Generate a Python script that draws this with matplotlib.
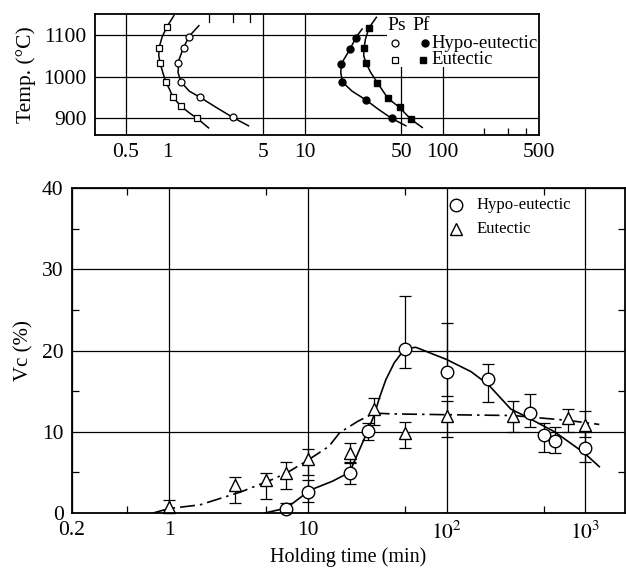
import matplotlib
matplotlib.use("Agg")
import matplotlib.pyplot as plt
from matplotlib.patches import Rectangle
from matplotlib.ticker import NullFormatter
import matplotlib.transforms as mtransforms

plt.rcParams['font.family'] = ['Liberation Serif', 'DejaVu Serif']
plt.rcParams['mathtext.fontset'] = 'stix'

# ---- top panel: Ps / Pf vs temperature ----
ps_hypo_x = [1.44, 1.33, 1.2, 1.26, 1.74, 3.0]
ps_hypo_T = [1096, 1069, 1032, 987, 950, 902]
ps_eut_x = [1.0, 0.875, 0.89, 0.98, 1.1, 1.26, 1.65]
ps_eut_T = [1120, 1069, 1032, 987, 951, 929, 900]
pf_hypo_x = [23.4, 21.2, 18.4, 18.7, 27.7, 42.5]
pf_hypo_T = [1093, 1065, 1031, 987, 944, 900]
pf_eut_x = [29.2, 26.9, 27.8, 33.6, 40, 48.6, 58.6]
pf_eut_T = [1117, 1069, 1032, 985, 948, 926, 898]

# hand-drawn curves
ps_hypo_fit_x = [1.7, 1.44, 1.30, 1.22, 1.20, 1.26, 1.45, 1.74, 2.3, 3.0, 3.9]
ps_hypo_fit_T = [1122, 1096, 1065, 1040, 1010, 987, 965, 950, 925, 902, 882]
ps_eut_fit_x = [1.12, 1.0, 0.92, 0.875, 0.87, 0.89, 0.94, 0.98, 1.04, 1.1, 1.26, 1.45, 1.65, 2.0]
ps_eut_fit_T = [1146, 1120, 1095, 1069, 1050, 1032, 1005, 987, 970, 951, 929, 913, 900, 877]
pf_hypo_fit_x = [26, 23.4, 21.2, 19.5, 18.4, 18.2, 18.7, 22, 27.7, 34, 42.5, 54]
pf_hypo_fit_T = [1114, 1093, 1065, 1045, 1031, 1010, 987, 965, 944, 922, 900, 882]
pf_eut_fit_x = [33, 29.2, 27.5, 26.9, 26.7, 27.8, 30, 33.6, 40, 48.6, 58.6, 71]
pf_eut_fit_T = [1142, 1117, 1090, 1069, 1050, 1032, 1010, 985, 948, 926, 898, 878]

top_xticks = [0.5, 1, 5, 10, 50, 100, 500]
top_xlabels = ['0.5', '1', '5', '10', '50', '100', '500']
top_grid_x = [0.5, 5, 10, 50, 100]
top_yticks = [900, 1000, 1100]

# ---- bottom panel: Vc vs holding time ----
hypo_t = [7, 10, 20, 27, 50, 100, 200, 400, 500, 600, 1000]
hypo_vc = [0.5, 2.6, 4.9, 10.1, 20.2, 17.3, 16.5, 12.3, 9.6, 8.9, 8.0]
hypo_lo = [0.5, 1.2, 1.3, 1.1, 2.3, 2.9, 2.8, 1.7, 2.1, 1.5, 1.7]
hypo_hi = [0.7, 1.5, 1.4, 1.0, 6.5, 6.1, 1.8, 2.3, 1.5, 1.7, 2.0]

eut_t = [1, 3, 5, 7, 10, 20, 30, 50, 100, 300, 750, 1000]
eut_vc = [0.75, 3.5, 4.0, 4.9, 6.6, 7.4, 12.8, 9.9, 12.0, 12.0, 11.7, 10.8]
eut_lo = [0.75, 2.3, 2.3, 2.0, 1.9, 1.2, 2.0, 1.9, 2.6, 2.0, 1.7, 1.4]
eut_hi = [0.85, 0.9, 0.9, 1.4, 1.3, 1.2, 1.4, 1.3, 1.8, 1.8, 1.1, 1.7]

hypo_fit_t = [4.9, 7, 9, 10, 15, 20, 27, 30, 33, 36.5, 42, 50, 60, 100, 150, 200, 290, 370, 600, 980, 1260]
hypo_fit_vc = [0, 0.6, 2.0, 2.7, 3.9, 5.0, 10.1, 12.0, 14.3, 16.4, 18.5, 20.2, 20.4, 18.9, 17.4, 15.8, 12.8, 11.9, 10.0, 7.4, 5.7]
eut_fit_t = [0.77, 1, 1.67, 3.3, 5.5, 7, 10, 14.2, 17, 23, 30, 40, 100, 300, 750, 1260]
eut_fit_vc = [0, 0.55, 1.0, 2.6, 4.1, 4.9, 6.5, 8.2, 9.9, 11.3, 12.3, 12.2, 12.1, 12.0, 11.4, 10.9]

bot_xticks = [0.2, 1, 10, 100, 1000]
bot_xlabels = ['0.2', '1', '10', '$10^2$', '$10^3$']
bot_xminor = [0.5, 5, 50, 500]
bot_yticks = [0, 10, 20, 30, 40]
bot_yminor = [5, 15, 25, 35]

FS = 15.5
fig = plt.figure(figsize=(6.26, 5.71), dpi=100)

# ================= TOP =================
ax1 = fig.add_axes([0.1518, 0.7636, 0.7093, 0.2119])
ax1.set_xscale('log')
ax1.set_xlim(0.3, 500)
ax1.set_ylim(860, 1150)
for x in top_grid_x:
    ax1.axvline(x, color='k', lw=0.9, zorder=1)
for y in top_yticks:
    ax1.axhline(y, color='k', lw=0.9, zorder=1)
ax1.add_patch(Rectangle((0.658, 0.562), 0.342, 0.438, transform=ax1.transAxes,
                        facecolor='white', edgecolor='none', zorder=2))

for fx, fT in [(ps_hypo_fit_x, ps_hypo_fit_T), (ps_eut_fit_x, ps_eut_fit_T),
               (pf_hypo_fit_x, pf_hypo_fit_T), (pf_eut_fit_x, pf_eut_fit_T)]:
    ax1.plot(fx, fT, color='k', lw=1.1, zorder=3)
ax1.plot(ps_hypo_x, ps_hypo_T, 'o', ms=5, mfc='white', mec='k', mew=0.9, zorder=4)
ax1.plot(ps_eut_x, ps_eut_T, 's', ms=5, mfc='white', mec='k', mew=0.9, zorder=4)
ax1.plot(pf_hypo_x, pf_hypo_T, 'o', ms=5, color='k', zorder=4)
ax1.plot(pf_eut_x, pf_eut_T, 's', ms=5, color='k', zorder=4)

ax1.set_xticks(top_xticks)
ax1.set_xticklabels(top_xlabels)
ax1.xaxis.set_minor_locator(matplotlib.ticker.FixedLocator([200, 300, 400]))
ax1.xaxis.set_minor_formatter(NullFormatter())
ax1.set_yticks(top_yticks)
ax1.tick_params(which='major', length=0, labelsize=FS, pad=6)
ax1.tick_params(which='minor', direction='in', length=5, width=0.9)
trans = mtransforms.blended_transform_factory(ax1.transData, ax1.transAxes)
for x in [2, 3, 4]:
    ax1.plot([x, x], [1, 0.93], transform=trans, color='k', lw=0.9, zorder=5)
ax1.set_ylabel('Temp. (°C)', fontsize=FS, labelpad=5)
for s in ax1.spines.values():
    s.set_linewidth(1.3)
    s.set_zorder(6)

# manual legend
ax1.text(0.679, 0.905, 'Ps', transform=ax1.transAxes, fontsize=14, ha='center', va='center', zorder=5)
ax1.text(0.735, 0.905, 'Pf', transform=ax1.transAxes, fontsize=14, ha='center', va='center', zorder=5)
ax1.plot([0.676], [0.76], 'o', ms=5, mfc='white', mec='k', mew=0.9, transform=ax1.transAxes, zorder=5)
ax1.plot([0.743], [0.76], 'o', ms=5, color='k', transform=ax1.transAxes, zorder=5)
ax1.plot([0.676], [0.62], 's', ms=5, mfc='white', mec='k', mew=0.9, transform=ax1.transAxes, zorder=5)
ax1.plot([0.739], [0.62], 's', ms=4.5, color='k', transform=ax1.transAxes, zorder=5)
ax1.text(0.757, 0.76, 'Hypo-eutectic', transform=ax1.transAxes, fontsize=13.5, va='center', zorder=5)
ax1.text(0.757, 0.62, 'Eutectic', transform=ax1.transAxes, fontsize=13.5, va='center', zorder=5)

# ================= BOTTOM =================
ax2 = fig.add_axes([0.115, 0.1016, 0.8834, 0.569])
ax2.set_xscale('log')
ax2.set_xlim(0.2, 1930)
ax2.set_ylim(0, 40)
ax2.set_xticks(bot_xticks)
ax2.set_xticklabels(bot_xlabels)
ax2.xaxis.set_minor_locator(matplotlib.ticker.FixedLocator(bot_xminor))
ax2.xaxis.set_minor_formatter(NullFormatter())
ax2.set_yticks(bot_yticks)
ax2.set_yticks(bot_yminor, minor=True)
ax2.grid(True, which='major', color='k', lw=0.9, zorder=1)
ax2.set_axisbelow(True)
ax2.tick_params(which='major', length=0, labelsize=FS, pad=6)
ax2.tick_params(which='minor', direction='in', length=5, width=0.9,
                top=True, right=True)

ax2.plot(hypo_fit_t, hypo_fit_vc, color='k', lw=1.2, zorder=3)
ax2.plot(eut_fit_t, eut_fit_vc, color='k', lw=1.2, dashes=(9, 3, 1.5, 3), zorder=3)

ax2.errorbar(hypo_t, hypo_vc, yerr=[hypo_lo, hypo_hi], fmt='none', ecolor='k',
             elinewidth=0.9, capsize=4.5, capthick=0.9, zorder=4)
ax2.errorbar(eut_t, eut_vc, yerr=[eut_lo, eut_hi], fmt='none', ecolor='k',
             elinewidth=0.9, capsize=4.5, capthick=0.9, zorder=4)
ax2.plot(hypo_t, hypo_vc, 'o', ms=9, mfc='white', mec='k', mew=1.0, zorder=5, clip_on=False)
ax2.plot(eut_t, eut_vc, '^', ms=9, mfc='white', mec='k', mew=1.0, zorder=5, clip_on=False)

ax2.plot([0.694], [0.947], 'o', ms=9, mfc='white', mec='k', mew=1.0, transform=ax2.transAxes)
ax2.plot([0.694], [0.873], '^', ms=9, mfc='white', mec='k', mew=1.0, transform=ax2.transAxes)
ax2.text(0.732, 0.947, 'Hypo-eutectic', transform=ax2.transAxes, fontsize=12, va='center')
ax2.text(0.732, 0.873, 'Eutectic', transform=ax2.transAxes, fontsize=12, va='center')

ax2.set_xlabel('Holding time (min)', fontsize=14.5, labelpad=3)
ax2.set_ylabel('Vc (%)', fontsize=15, labelpad=6)
for s in ax2.spines.values():
    s.set_linewidth(1.3)
    s.set_zorder(6)

fig.savefig('out.png', dpi=100, facecolor='white')
